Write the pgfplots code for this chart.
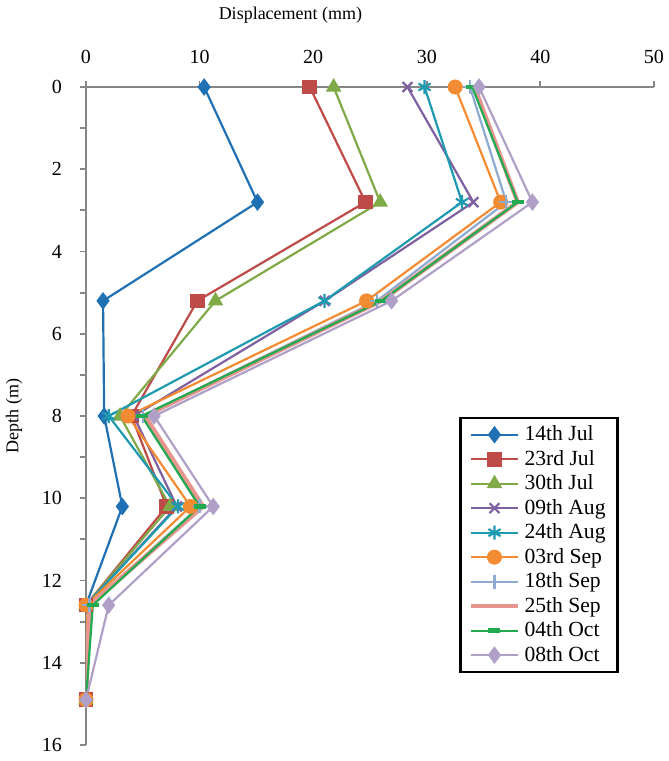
\documentclass[border=0pt]{standalone}
\usepackage{pgfplots}
\pgfplotsset{compat=1.18}
\usepackage{fontspec}
\setmainfont{Liberation Serif}
\definecolor{c1}{HTML}{2070B4}
\definecolor{c2}{HTML}{BE4B48}
\definecolor{c3}{HTML}{80AA48}
\definecolor{c4}{HTML}{7F60A0}
\definecolor{c5}{HTML}{1E9AB0}
\definecolor{c6}{HTML}{F38B32}
\definecolor{c7}{HTML}{8FAAD0}
\definecolor{c8}{HTML}{E6958F}
\definecolor{c9}{HTML}{22AA50}
\definecolor{c10}{HTML}{B0A0C8}
\definecolor{axgray}{HTML}{868686}
\begin{document}
\begin{tikzpicture}
\useasboundingbox (-43pt,-8pt) rectangle (291.5pt,372.5pt);
\begin{axis}[
  at={(0,0)}, anchor=south west,
  scale only axis, width=284pt, height=329pt,
  xmin=0, xmax=50, ymin=0, ymax=16,
  y dir=reverse,
  axis x line=top, axis y line=left,
  axis line style={axgray, line width=0.9pt, -},
  xtick={0,10,...,50},
  ytick={0,2,...,16},
  minor ytick={1,3,...,15},
  tick align=outside,
  major tick length=3pt, minor tick length=3pt,
  tick style={axgray, line width=0.9pt},
  /pgf/number format/assume math mode=true,
  ticklabel style={font=\fontsize{10}{12}\selectfont, black},
  xticklabel style={yshift=5pt},
  yticklabel style={xshift=-5.5pt},
  xlabel={Displacement (mm)},
  ylabel={Depth (m)},
  label style={font=\fontsize{9}{10}\selectfont},
  xlabel style={at={(axis description cs:0.36,1)}, anchor=center, yshift=36pt},
  ylabel style={yshift=3pt},
  every axis plot/.append style={line width=1.1pt},
  legend style={at={(0.938,0.109)}, anchor=south east, draw=black, line width=1.2pt,
    font=\fontsize{10.8}{12}\selectfont, row sep=-0.75pt, inner xsep=4pt, inner ysep=2pt,
    cells={anchor=west}},
  legend cell align=left,
  legend image code/.code={\draw[mark repeat=2,mark phase=2] plot coordinates {(0cm,0cm) (0.42cm,0cm) (0.84cm,0cm)};},
]
\addplot[color=c1, mark=diamond*, mark size=4pt, mark options={solid, line width=0.5pt}] coordinates {
(10.4,0) (15.1,2.8) (1.5,5.2) (1.6,8.0) (3.2,10.2) (0,12.6) (0,14.9)};
\addlegendentry{14th Jul}
\addplot[color=c2, mark=square*, mark size=3.4pt, mark options={solid, line width=0.5pt}] coordinates {
(19.7,0) (24.6,2.8) (9.8,5.2) (4.0,8.0) (7.1,10.2) (0,12.6) (0,14.9)};
\addlegendentry{23rd Jul}
\addplot[color=c3, mark=triangle*, mark size=4pt, mark options={solid, line width=0.5pt}] coordinates {
(21.8,0) (25.9,2.8) (11.4,5.2) (3.0,8.0) (7.4,10.2) (0,12.6) (0,14.9)};
\addlegendentry{30th Jul}
\addplot[color=c4, mark=x, mark size=3.5pt, mark options={solid, line width=1.1pt}] coordinates {
(28.3,0) (34.1,2.8) (21.0,5.2) (4.2,8.0) (8.0,10.2) (0,12.6) (0,14.9)};
\addlegendentry{09th Aug}
\addplot[color=c5, mark=asterisk, mark size=3.5pt, mark options={solid, line width=1.1pt}] coordinates {
(29.8,0) (33.1,2.8) (21.0,5.2) (2.0,8.0) (8.1,10.2) (0,12.6) (0,14.9)};
\addlegendentry{24th Aug}
\addplot[color=c6, mark=*, mark size=3.5pt, mark options={solid, line width=0.5pt}] coordinates {
(32.5,0) (36.5,2.8) (24.7,5.2) (3.7,8.0) (9.2,10.2) (0,12.6) (0,14.9)};
\addlegendentry{03rd Sep}
\addplot[color=c7, mark=+, mark size=3.5pt, mark options={solid, line width=1.1pt}] coordinates {
(33.8,0) (37.0,2.8) (25.6,5.2) (5.0,8.0) (10.0,10.2) (0.3,12.6) (0,14.9)};
\addlegendentry{18th Sep}
\addplot[color=c8, line width=2.2pt, mark=none] coordinates {
(34.2,0) (38.0,2.8) (26.0,5.2) (5.2,8.0) (10.3,10.2) (0.3,12.6) (0,14.9)};
\addlegendentry{25th Sep}
\addplot[color=c9, mark=-, mark size=3pt, mark options={solid, line width=2.2pt}] coordinates {
(34.0,0) (38.0,2.8) (26.0,5.2) (4.9,8.0) (10.0,10.2) (0.6,12.6) (0,14.9)};
\addlegendentry{04th Oct}
\addplot[color=c10, mark=diamond*, mark size=4pt, mark options={solid, line width=0.5pt}] coordinates {
(34.6,0) (39.3,2.8) (26.9,5.2) (6.0,8.0) (11.2,10.2) (2.0,12.6) (0,14.9)};
\addlegendentry{08th Oct}
\end{axis}
\end{tikzpicture}
\end{document}
